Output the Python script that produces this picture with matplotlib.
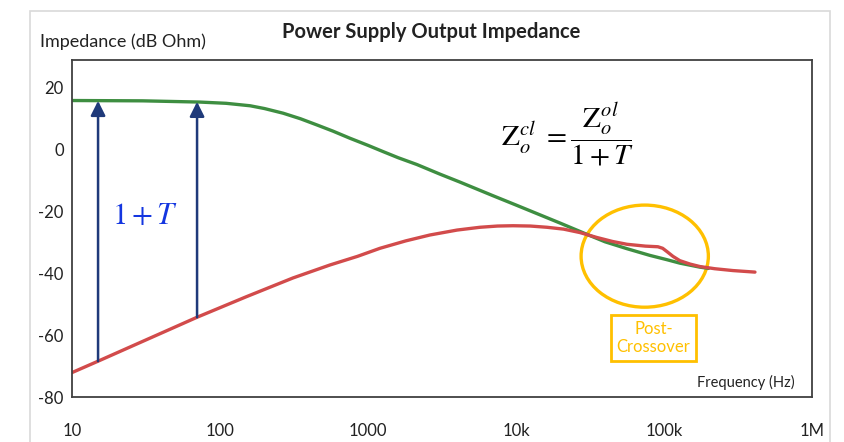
import matplotlib
matplotlib.use("Agg")
import matplotlib.pyplot as plt
from matplotlib.patches import Ellipse, Rectangle

plt.rcParams['font.family'] = ['Lato', 'DejaVu Sans']
plt.rcParams['mathtext.fontset'] = 'stix'
plt.rcParams['axes.unicode_minus'] = False

# open loop output impedance (green)
f_ol = [10, 30, 73, 110, 160, 200, 267, 350, 452, 580, 755, 1000, 1262, 1600, 2140, 3060,
        4190, 7000, 10000, 20000, 30200, 40000, 56000, 80400, 105000, 128000, 175000, 200000]
z_ol = [15.9, 15.8, 15.4, 15.0, 14.2, 13.3, 11.8, 10.0, 8.0, 6.0, 3.7, 1.4, -0.6, -2.6, -4.8, -7.9,
        -10.5, -14.9, -17.9, -23.8, -27.4, -29.8, -32.0, -34.2, -35.6, -36.7, -38.0, -38.4]

# closed loop output impedance (red)
f_cl = [10, 14.7, 70, 150, 311, 553, 850, 1205, 1800, 2620, 4000, 5710, 7500, 9550, 12500,
        16200, 21000, 27000, 35200, 45000, 56200, 75000, 91000, 98000, 105000, 115000,
        128000, 150000, 175000, 220000, 292000, 412000]
z_cl = [-72.1, -68.6, -54.2, -47.6, -41.5, -37.3, -34.5, -31.9, -29.5, -27.6, -26.0, -25.1, -24.7,
        -24.6, -24.7, -25.1, -25.7, -26.8, -28.4, -29.7, -30.6, -31.2, -31.4, -31.9, -33.0,
        -34.5, -35.9, -37.0, -37.8, -38.5, -39.1, -39.6]

# 1+T arrows
arrow_f = [15, 70]
arrow_lo = [-68.4, -54.2]
arrow_hi = [15.8, 15.5]

xticks = [10, 100, 1000, 10000, 100000, 1000000]
xlabels = ['10', '100', '1000', '10k', '100k', '1M']
yticks = [-80, -60, -40, -20, 0, 20]

fig = plt.figure(figsize=(8.45, 4.42), dpi=100)
ax = fig.add_axes([0.0852, 0.1018, 0.8757, 0.7624])

ax.plot(f_ol, z_ol, color='#3E8E41', lw=2.4, solid_capstyle='round', solid_joinstyle='round')
ax.plot(f_cl, z_cl, color='#D24B4B', lw=2.4, solid_capstyle='round', solid_joinstyle='round')

for f, lo, hi in zip(arrow_f, arrow_lo, arrow_hi):
    ax.annotate('', xy=(f, hi), xytext=(f, lo),
                arrowprops=dict(arrowstyle='-|>', color='#1F3A7A', lw=1.8,
                                mutation_scale=22, shrinkA=0, shrinkB=0))

ax.set_xscale('log')
ax.set_xlim(10, 1e6)
ax.set_ylim(-80, 29)
ax.set_xticks(xticks)
ax.set_xticklabels(xlabels)
ax.minorticks_off()
ax.set_yticks(yticks)
ax.tick_params(axis='x', length=0, pad=19, labelsize=12, colors='#222222')
ax.tick_params(axis='y', length=0, pad=6, labelsize=12, colors='#222222')
for s in ax.spines.values():
    s.set_color('#404040')
    s.set_linewidth(1.3)

ax.text(0.099, 0.54, r'$1+T$', transform=ax.transAxes, color='#1436E0',
        fontsize=22, ha='center', va='center')
ax.text(0.67, 0.78, r'$\mathrm{Z}_o^{cl}\ =\dfrac{\mathrm{Z}_o^{ol}}{1+T}$', transform=ax.transAxes,
        color='black', fontsize=21, ha='center', va='center')

ax.text(0.977, 0.0445, 'Frequency (Hz)', transform=ax.transAxes, ha='right', va='center',
        fontsize=10.5, color='#222222')

ax.add_patch(Ellipse((0.774, 0.418), 0.172, 0.303, angle=0, transform=ax.transAxes,
                     fill=False, edgecolor='#FFC000', lw=2.4))
ax.text(0.786, 0.175, 'Post-\nCrossover', transform=ax.transAxes,
        ha='center', va='center', fontsize=12, color='#FFC000', linespacing=1.15,
        bbox=dict(boxstyle='square,pad=0.35', fc='white', ec='#FFC000', lw=2))

fig.text(0.51, 0.9276, 'Power Supply Output Impedance', ha='center', va='center',
         fontsize=14.5, fontweight='bold', color='#222222')
fig.text(0.0473, 0.905, 'Impedance (dB Ohm)', ha='left', va='center', fontsize=13,
         color='#222222')

fig.patches.append(Rectangle((30 / 845, -0.05), 800 / 845, 1.05 - 11 / 442,
                             transform=fig.transFigure, fill=False, edgecolor='#D9D9D9', lw=1.2))

fig.savefig('out.png', dpi=100)
